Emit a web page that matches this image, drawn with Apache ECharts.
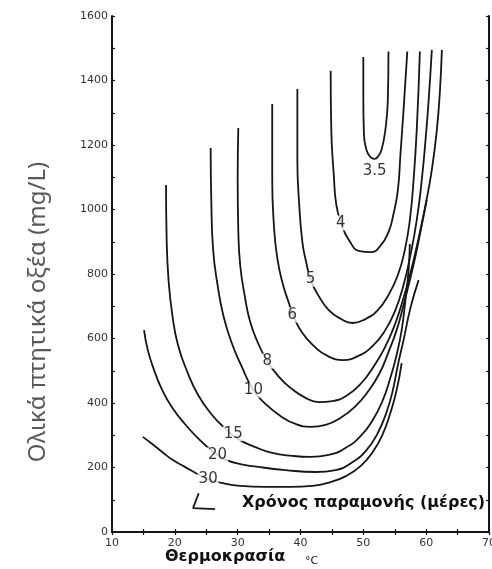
<!DOCTYPE html>
<html>
<head>
<meta charset="utf-8">
<script src="https://cdn.jsdelivr.net/npm/echarts@6/dist/echarts.min.js"></script>
<style>
  html, body { margin: 0; padding: 0; background: #fff; overflow: hidden; }
  #chart { position: absolute; left: 0; top: 0; width: 492px; height: 569px; }
</style>
</head>
<body>
<div id="chart"></div>
<script>
// temperature (°C) vs total volatile acids (mg/L), one curve per retention time (days)
const curve3_5 = [[50.0,1473],[50.0,1340],[50.1,1231],[50.5,1185],[51.1,1163],[51.8,1157],[52.4,1166],[52.9,1185],[53.5,1246],[53.9,1340],[54.0,1490]]
const curve4 = [[44.8,1430],[44.9,1247],[45.3,1107],[45.7,1014],[46.5,955],[47.8,902],[49.4,871],[51.2,868],[52.7,887],[54.0,930],[54.8,986],[55.5,1061],[55.9,1169],[56.4,1309],[57.0,1490]]
const curve5 = [[39.5,1374],[39.5,1154],[39.8,1014],[40.3,899],[40.9,837],[41.7,778],[42.9,732],[44.5,688],[46.4,661],[48.3,648],[50.4,661],[52.3,688],[54.0,735],[55.5,797],[56.6,874],[57.4,967],[58.0,1092],[58.5,1247],[59.0,1490]]
const curve6 = [[35.5,1327],[35.5,1092],[35.8,942],[36.3,850],[37.1,775],[38.1,713],[39.0,664],[40.3,617],[42.1,577],[44.3,546],[46.8,533],[49.2,546],[51.5,577],[53.5,626],[55.1,688],[56.4,766],[57.5,859],[58.5,967],[59.3,1092],[59.9,1216],[60.4,1340],[60.9,1495]]
const curve8 = [[30.1,1253],[30.0,1092],[30.1,936],[30.4,828],[31.1,735],[32.0,651],[33.3,583],[34.7,530],[36.3,487],[38.4,447],[40.8,416],[42.9,403],[45.1,406],[47.5,425],[49.7,462],[51.6,512],[53.4,571],[55.0,642],[56.4,726],[57.7,819],[58.8,912],[59.9,1014],[60.9,1123],[61.7,1247],[62.2,1371],[62.5,1495]]
const curve10 = [[25.7,1191],[25.8,1030],[26.1,874],[26.8,766],[27.7,673],[29.0,589],[30.6,515],[32.5,440],[34.6,394],[36.8,360],[39.2,335],[41.6,326],[44.0,332],[46.4,354],[48.8,391],[50.8,437],[52.6,493],[54.0,558],[55.3,626],[56.4,704],[57.5,788],[58.5,874],[59.3,952],[60.1,1030]]
const curve15 = [[18.6,1076],[18.7,905],[19.0,781],[19.6,673],[20.5,580],[22.0,496],[23.7,425],[25.8,366],[27.9,323],[30.1,288],[32.7,264],[35.5,245],[38.7,236],[41.6,233],[44.5,239],[47.2,261],[49.6,298],[51.5,347],[53.1,409],[54.3,478],[55.3,549],[56.1,626],[56.7,719],[57.2,812],[57.4,893]]
const curve20 = [[15.1,626],[15.7,564],[16.7,502],[18.0,440],[19.6,385],[21.6,335],[24.0,285],[26.8,239],[29.6,214],[33.3,202],[37.6,192],[42.4,186],[45.6,192],[48.3,217],[50.5,254],[52.3,307],[53.7,372],[54.7,440],[55.5,518],[56.4,595],[57.5,695],[58.8,781]]
const curve30 = [[14.9,295],[16.4,273],[18.0,248],[19.7,223],[21.6,202],[23.6,180],[25.3,164],[27.5,152],[30.4,143],[34.4,140],[38.4,140],[41.9,143],[44.8,155],[47.3,174],[49.6,205],[51.5,248],[53.1,304],[54.3,369],[55.3,440],[56.1,524]]

const retentionDays = ['3.5', '4', '5', '6', '8', '10', '15', '20', '30']
const curves = [curve3_5, curve4, curve5, curve6, curve8, curve10, curve15, curve20, curve30]
// where each curve carries its number
const labelSpots = [[51.8,1119],[46.4,958],[41.6,784],[38.7,673],[34.7,530],[32.5,440],[29.3,305],[26.8,239],[25.3,164]]
// little leader drawn towards the lowest curves
const leader = [[23.8,120],[22.9,74],[26.4,71]]

const X_MIN = 10, X_MAX = 70, X_STEP = 5
const Y_MIN = 0, Y_MAX = 1600, Y_STEP = 100

const ink = '#161616'
const frameLine = { show: true, lineStyle: { color: ink, width: 2 } }
const innerTick = { show: true, inside: true, length: 3, lineStyle: { color: ink, width: 1.2 } }

function curveSeries(points) {
  return {
    type: 'line',
    data: points,
    smooth: 0.5,
    showSymbol: false,
    silent: true,
    lineStyle: { color: ink, width: 1.8 },
    z: 2,
  }
}

const chart = echarts.init(document.getElementById('chart'), null, { renderer: 'canvas', width: 492, height: 569 })

chart.setOption({
  animation: false,
  backgroundColor: '#fff',
  grid: { left: 112, right: 3, top: 16, bottom: 37, outerBoundsMode: 'none', containLabel: false },
  xAxis: [
    {
      type: 'value', min: X_MIN, max: X_MAX, interval: X_STEP,
      axisLine: frameLine, axisTick: innerTick, splitLine: { show: false },
      axisLabel: {
        formatter: (v) => (v % 10 === 0 ? String(v) : ''),
        color: '#333', fontSize: 11, fontFamily: 'DejaVu Sans', margin: 6,
      },
    },
    {
      type: 'value', position: 'top', min: X_MIN, max: X_MAX, interval: X_STEP,
      axisLine: frameLine, axisTick: innerTick, axisLabel: { show: false }, splitLine: { show: false },
    },
  ],
  yAxis: [
    {
      type: 'value', min: Y_MIN, max: Y_MAX, interval: Y_STEP,
      axisLine: frameLine, axisTick: innerTick, splitLine: { show: false },
      axisLabel: {
        formatter: (v) => (v % 200 === 0 ? String(v) : ''),
        color: '#333', fontSize: 11, fontFamily: 'DejaVu Sans', margin: 4,
      },
    },
    {
      type: 'value', position: 'right', min: Y_MIN, max: Y_MAX, interval: Y_STEP,
      axisLine: frameLine, axisTick: innerTick, axisLabel: { show: false }, splitLine: { show: false },
    },
  ],
  series: [
    ...curves.map(curveSeries),
    {
      type: 'line',
      data: leader,
      showSymbol: false,
      silent: true,
      lineStyle: { color: ink, width: 1.8 },
    },
    {
      type: 'scatter',
      data: labelSpots.map((p, i) => ({ value: p, name: retentionDays[i] })),
      symbolSize: 2,
      itemStyle: { color: 'rgba(0,0,0,0)' },
      silent: true,
      z: 5,
      label: {
        show: true,
        position: 'inside',
        formatter: '{b}',
        color: '#000',
        fontSize: 15,
        fontFamily: 'DejaVu Sans',
        backgroundColor: '#fff',
        padding: [0, 1],
      },
    },
  ],
  graphic: [
    {
      type: 'text', x: 38, y: 312, rotation: Math.PI / 2,
      style: {
        text: 'Ολικά πτητικά οξέα (mg/L)', fill: '#595959',
        fontSize: 24, fontFamily: 'Noto Sans', align: 'center', verticalAlign: 'middle',
      },
    },
    {
      type: 'text', x: 165, y: 557,
      style: {
        text: 'Θερμοκρασία', fill: '#111',
        fontSize: 16, fontWeight: 'bold', fontFamily: 'DejaVu Sans', align: 'left', verticalAlign: 'middle',
      },
    },
    {
      type: 'text', x: 305, y: 561,
      style: { text: '°C', fill: '#111', fontSize: 11, fontFamily: 'DejaVu Sans', align: 'left', verticalAlign: 'middle' },
    },
    {
      type: 'text', x: 242, y: 503,
      style: {
        text: 'Χρόνος παραμονής (μέρες)', fill: '#111',
        fontSize: 16, fontWeight: 'bold', fontFamily: 'DejaVu Sans', align: 'left', verticalAlign: 'middle',
      },
    },
  ],
})
</script>
</body>
</html>
